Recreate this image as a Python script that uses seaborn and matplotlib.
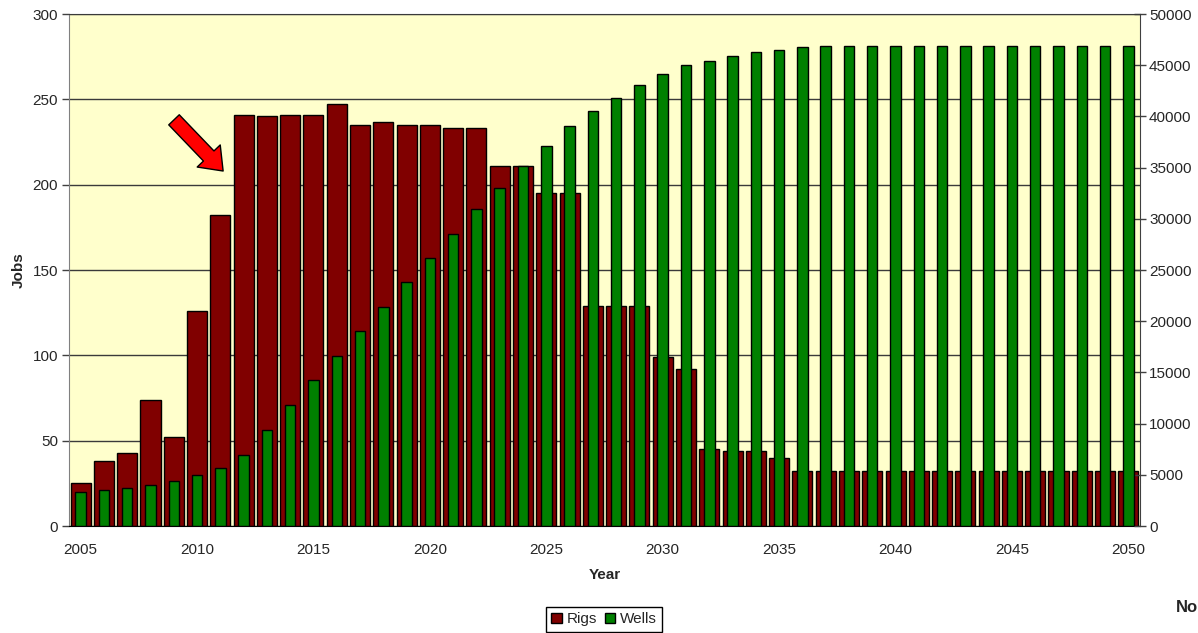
import pandas as pd
import matplotlib
matplotlib.use("Agg")
import matplotlib.pyplot as plt
from matplotlib.patches import FancyArrowPatch, Patch
import seaborn as sns

# dane
years = [2005, 2006, 2007, 2008, 2009, 2010, 2011, 2012, 2013, 2014,
         2015, 2016, 2017, 2018, 2019, 2020, 2021, 2022, 2023, 2024,
         2025, 2026, 2027, 2028, 2029, 2030, 2031, 2032, 2033, 2034,
         2035, 2036, 2037, 2038, 2039, 2040, 2041, 2042, 2043, 2044,
         2045, 2046, 2047, 2048, 2049, 2050]
rigs = [25, 38, 43, 74, 52, 126, 182, 241, 240, 241,
        241, 247, 235, 237, 235, 235, 233, 233, 211, 211,
        195, 195, 129, 129, 129, 99, 92, 45, 44, 44,
        40, 32, 32, 32, 32, 32, 32, 32, 32, 32,
        32, 32, 32, 32, 32, 32]
wells = [3300, 3550, 3700, 4050, 4350, 4950, 5650, 6900, 9350, 11800,
         14250, 16650, 19000, 21400, 23850, 26150, 28500, 30950, 33050, 35150,
         37100, 39100, 40500, 41750, 43050, 44100, 45050, 45400, 45850, 46300,
         46500, 46750, 46900, 46900, 46900, 46900, 46900, 46900, 46900, 46900,
         46900, 46900, 46900, 46900, 46900, 46900]
year_labels = [2005, 2010, 2015, 2020, 2025, 2030, 2035, 2040, 2045, 2050]

RIGS_COLOR = "#800000"
WELLS_COLOR = "#008000"

sns.set_style("white")
plt.rcParams["font.family"] = ["Liberation Sans", "DejaVu Sans"]

df = pd.DataFrame({"Year": [str(y) for y in years], "Rigs": rigs, "Wells": wells})

fig = plt.figure(figsize=(11.98, 6.33), dpi=100)
ax = fig.add_axes([69 / 1198, 1 - 526 / 633, (1140 - 69) / 1198, (526 - 14) / 633])
ax.set_facecolor("#FFFFCC")
ax2 = ax.twinx()

sns.barplot(data=df, x="Year", y="Rigs", ax=ax, color=RIGS_COLOR, saturation=1,
            width=0.86, edgecolor="black", linewidth=1, zorder=2)
sns.barplot(data=df, x="Year", y="Wells", ax=ax2, color=WELLS_COLOR, saturation=1,
            width=0.45, edgecolor="black", linewidth=1, zorder=2)

n = len(years)
ax.set_xlim(-0.5, n - 0.5)
ax.set_ylim(0, 300)
ax2.set_ylim(0, 50000)

# etykiety co 5 lat na środku kategorii, kreski na granicach
ax.set_xticks([years.index(y) for y in year_labels])
ax.set_xticklabels([str(y) for y in year_labels])
ax.set_xticks([i - 0.5 for i in range(n + 1)], minor=True)
ax.tick_params(axis="x", which="major", length=0, labelsize=11, pad=12)
ax.tick_params(axis="x", which="minor", length=5, width=1, color="#404040")

ax.set_yticks(range(0, 301, 50))
ax.tick_params(axis="y", length=5, width=1, color="#404040", labelsize=11, pad=3)
ax2.set_yticks(range(0, 50001, 5000))
ax2.tick_params(axis="y", direction="inout", length=9, width=1, color="#404040",
                labelsize=11, pad=2)

ax.yaxis.grid(True, color="#3a3a3a", linewidth=1)
ax.set_axisbelow(True)

for sp in ["top", "right"]:
    ax.spines[sp].set_visible(False)
ax.spines["left"].set_color("#808080")
ax.spines["bottom"].set_color("black")
ax2.spines["left"].set_visible(False)
ax2.spines["top"].set_color("#3a3a3a")
ax2.spines["bottom"].set_visible(False)
ax2.spines["right"].set_color("#404040")

ax.set_xlabel("Year", fontsize=11, fontweight="bold", labelpad=8)
ax.set_ylabel("Jobs", fontsize=11, fontweight="bold", labelpad=5)
ax2.set_ylabel("")

# czerwona strzałka
arrow = FancyArrowPatch((4.01, 238), (6.12, 208),
                        arrowstyle="simple,tail_width=1.05,head_width=2.3,head_length=1.5",
                        mutation_scale=10, fc="red", ec="black", lw=1,
                        shrinkA=0, shrinkB=0, zorder=5)
ax.add_patch(arrow)

handles = [Patch(facecolor=RIGS_COLOR, edgecolor="black", label="Rigs"),
           Patch(facecolor=WELLS_COLOR, edgecolor="black", label="Wells")]
leg = fig.legend(handles=handles, loc="upper center", bbox_to_anchor=(604 / 1198, 1 - 607 / 633),
                 ncol=2, fontsize=11, frameon=True, fancybox=False, framealpha=1,
                 edgecolor="black", handlelength=0.7, handleheight=0.7,
                 handletextpad=0.3, columnspacing=0.5, borderpad=0.35, borderaxespad=0)
leg.get_frame().set_linewidth(1)

fig.text(1176 / 1198, 1 - 607 / 633, "No", fontsize=12, fontweight="bold",
         ha="left", va="center")

fig.savefig("out.png", dpi=100)
